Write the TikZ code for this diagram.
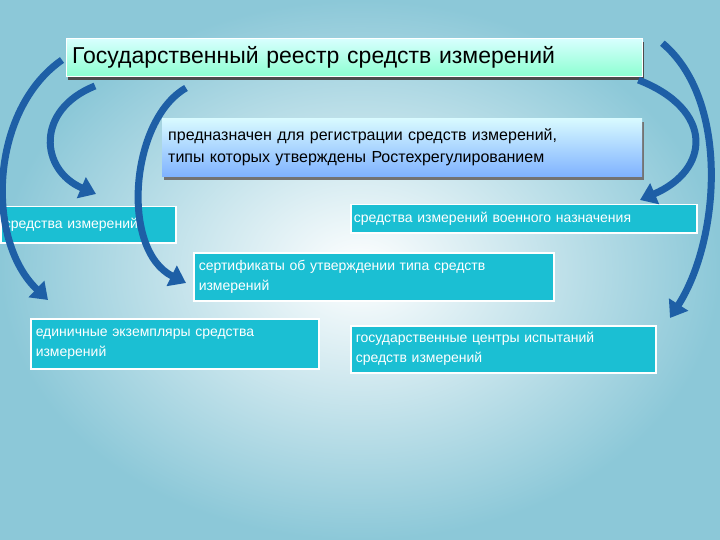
\documentclass[tikz,border=0pt]{standalone}
\usepackage{fontspec}
\setmainfont{Liberation Sans}
\usetikzlibrary{arrows.meta,shadows}
\definecolor{cy}{HTML}{1BBFD3}
\definecolor{arr}{HTML}{1E5FA6}
\definecolor{bgo}{HTML}{8CC8D8}
\begin{document}
\begin{tikzpicture}[x=1pt,y=-1pt,
 cbox/.style={draw=white,line width=1.5pt,fill=cy,text=white,align=left,inner sep=3pt,anchor=north west,font=\fontsize{14}{20}\selectfont},
 bigarr/.style={draw=arr,line width=7pt,-{Triangle[length=16pt,width=22pt]}}]
\shade[inner color=white,outer color=bgo] (0,0) rectangle (720,540);
\useasboundingbox (0,0) rectangle (720,540);
\fill[black!70] (68,42) rectangle (644,80);
\node[draw=white,top color=cyan!15,bottom color=green!40!cyan!45,minimum width=576pt,minimum height=38pt,anchor=north west,inner sep=0pt,inner xsep=6pt,text width=564pt,align=left,font=\fontsize{23}{26}\selectfont] (title) at (66,38) {Государственный реестр средств измерений};
\fill[black!55] (164,122) rectangle (644,180);
\node[top color=blue!12!cyan!15,bottom color=blue!60!cyan!50,minimum width=480pt,minimum height=58pt,anchor=north west,align=left,inner sep=6pt,text width=468pt,font=\fontsize{16}{22}\selectfont] (purp) at (162,118) {предназначен для регистрации средств измерений,\\типы которых утверждены Ростехрегулированием};
\node[cbox,minimum width=175pt,minimum height=36pt,text width=169pt] (si) at (0,206) {средства измерений};
\node[cbox,minimum width=346pt,minimum height=28pt,text width=340pt] (mil) at (350,204) {средства измерений военного назначения};
\node[cbox,minimum width=360pt,minimum height=48pt,text width=350pt] (cert) at (193,252) {сертификаты об утверждении типа средств\\измерений};
\node[cbox,minimum width=288pt,minimum height=50pt,text width=278pt] (one) at (30,318) {единичные экземпляры средства\\измерений};
\node[cbox,minimum width=305pt,minimum height=47pt,text width=295pt] (cent) at (350,325) {государственные центры испытаний\\средств измерений};
\coordinate (a1e) at (48,300);
\coordinate (a2e) at (96,194);
\coordinate (a3e) at (186,283);
\coordinate (a4e) at (640,200);
\coordinate (a5e) at (670,318);
\draw[bigarr] (title.west|-0,60) ++(-4,0) .. controls (-10,110) and (-15,240) .. (a1e);
\draw[bigarr] (95,86) .. controls (35,110) and (40,170) .. (a2e);
\draw[bigarr] (186,88) .. controls (130,120) and (120,250) .. (a3e);
\draw[bigarr] (purp.north east) ++(-4,-38) .. controls (715,110) and (710,170) .. (a4e);
\draw[bigarr] (title.east) ++(20,-14) .. controls (730,100) and (720,240) .. (a5e);
\end{tikzpicture}
\end{document}
